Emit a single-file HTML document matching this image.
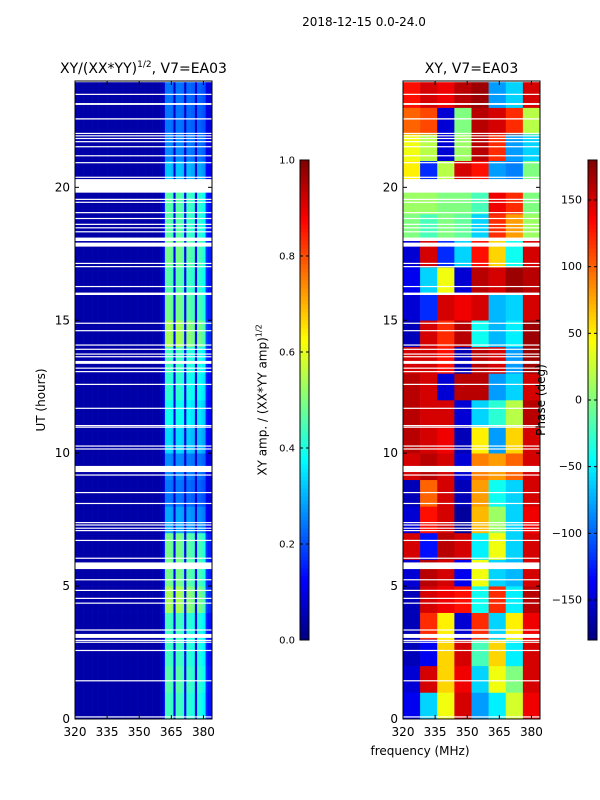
<!DOCTYPE html>
<html><head><meta charset="utf-8"><style>
body{margin:0;background:#fff}
svg{display:block;font-family:"DejaVu Sans","Liberation Sans",sans-serif}
</style></head><body>
<svg id="c" width="600" height="800" viewBox="0 0 600 800">
<text x="364" y="26" font-size="12" text-anchor="middle">2018-12-15 0.0-24.0</text>
</svg>
<script>
// ---- data ----
const freqRange = [320, 384];
const timeRange = [0, 24];
const xTicks = [320, 335, 350, 365, 380];
const yTicks = [0, 5, 10, 15, 20];
const ampTicks = [0.0, 0.2, 0.4, 0.6, 0.8, 1.0];
const phaseTicks = [-150, -100, -50, 0, 50, 100, 150];
// amplitude frequency profile, 1 MHz channels 320..383
const ampChan = [0,0,0,0,0,0,0,0,0,0,0,0,0,0,0,0,0,0,0,0,0,0,0,0,0,0,0,0,0,0,0,0,0,0,0,0,0,0,0,0,
  0.05,0.2,1.0,1.0,1.0,0.95,0.15,1.0,1.0,1.0,0.95,0.18,0.95,0.95,0.9,0.9,0.18,0.9,0.9,0.85,0.8,0.3,0.25,0.25];
// amplitude level per hour (0..23)
const ampHour = [0.4,0.42,0.4,0.4,0.5,0.45,0.45,0.25,0.2,0.22,0.3,0.35,0.38,0.4,0.5,0.45,0.42,0.45,0.42,0.42,0.28,0.22,0.2,0.2];
const ampBase = 0.04;
// phase (deg) per hour row (0..23) x 8 MHz segments
const phase = [
 [-140,-60,40,150,-80,-50,30,140],
 [-150,150,60,140,-60,40,0,150],
 [-160,-140,60,150,-20,60,-50,150],
 [-160,120,50,-150,120,-60,50,140],
 [-160,150,140,130,-40,120,-50,160],
 [-150,160,150,-140,40,-60,-70,150],
 [150,-130,160,150,-50,40,-60,150],
 [-150,130,150,-170,70,10,-60,140],
 [-160,100,150,-160,80,-40,-60,150],
 [150,160,150,-150,90,80,100,150],
 [160,150,140,-160,50,-80,60,150],
 [160,150,150,-150,-60,-30,20,160],
 [160,150,-150,160,160,-80,-60,150],
 [150,150,130,-160,160,150,-80,170],
 [-160,150,120,160,-40,-70,-50,170],
 [-150,-120,150,140,150,-70,-60,150],
 [-140,-60,40,-150,160,150,170,160],
 [-150,150,-120,-60,130,60,-40,150],
 [0,-20,0,-10,-60,120,80,10],
 [10,10,0,0,-20,140,120,0],
 [50,-120,20,150,130,-80,-90,0],
 [40,20,-150,10,160,120,-80,-60],
 [100,110,-150,0,160,150,120,20],
 [130,150,140,160,170,-80,-60,150]
];
// flagged (missing) time intervals, hours [start, end]
const gaps = [[0.07,0.1],[1.42,1.46],[2.56,2.6],[2.87,2.91],[2.94,2.98],[3.05,3.2],[3.33,3.37],[4.34,4.38],[4.52,4.56],[4.82,4.86],[5.22,5.26],
 [5.64,5.89],[6.03,6.07],[6.7,6.74],[7.07,7.11],[7.16,7.2],[7.28,7.32],[7.37,7.41],[8.09,8.13],[8.5,8.54],[9.16,9.2],[9.29,9.52],
 [10.14,10.18],[10.25,10.29],[10.96,11.0],[11.02,11.06],[11.67,11.71],[12.57,12.61],[13.05,13.09],[13.18,13.22],[13.36,13.47],
 [13.61,13.65],[13.71,13.75],[13.89,13.93],[14.05,14.09],[14.59,14.63],[14.87,14.91],[15.95,16.04],[16.25,16.29],[17.0,17.04],
 [17.12,17.16],[17.77,17.92],[17.98,18.11],[18.31,18.35],[18.46,18.5],[18.59,18.63],[18.81,18.85],[19.03,19.07],[19.42,19.46],
 [19.53,19.57],[19.8,20.31],[20.36,20.4],[20.91,20.95],[21.17,21.21],[21.51,21.55],[21.7,21.74],[21.82,21.86],[21.92,21.96],
 [22.01,22.05],[22.55,22.6],[23.1,23.17],[23.48,23.52],[23.97,24.0]];
// ---- drawing ----
const NS='http://www.w3.org/2000/svg';
const svg=document.getElementById('c');
function el(t,a,p){const e=document.createElementNS(NS,t);for(const k in a)e.setAttribute(k,a[k]);(p||svg).appendChild(e);return e;}
function jet(v){v=Math.max(0,Math.min(1,v));
 const r=Math.max(0,Math.min(1,Math.min(4*v-1.5,-4*v+4.5)));
 const g=Math.max(0,Math.min(1,Math.min(4*v-0.5,-4*v+3.5)));
 const b=Math.max(0,Math.min(1,Math.min(4*v+0.5,-4*v+2.5)));
 return `rgb(${Math.round(r*255)},${Math.round(g*255)},${Math.round(b*255)})`;}
const panels=[{x0:75,x1:212,title:'XY/(XX*YY)',sup:true,name:'amp'},{x0:403,x1:540,title:'XY, V7=EA03',sup:false,name:'phase'}];
const Y0=719,Y1=81;
function yS(h){return Y0-(h-timeRange[0])/(timeRange[1]-timeRange[0])*(Y0-Y1);}
panels.forEach((p,pi)=>{
 const xS=f=>p.x0+(f-freqRange[0])/(freqRange[1]-freqRange[0])*(p.x1-p.x0);
 const g=el('g',{});
 
 
 if(pi===0){
  for(let t=0;t<ampHour.length;t++)for(let c=0;c<ampChan.length;c++){
   const v=ampBase+ampChan[c]*ampHour[t];
   const r=el('rect',{x:xS(320+c),y:yS(t+1),width:xS(321+c)-xS(320+c)+0.3,height:yS(t)-yS(t+1)+0.3,fill:jet(v)},g);
   
   
  }
 } else {
  for(let t=0;t<phase.length;t++)for(let s=0;s<8;s++){
   const v=phase[t][s];
   const r=el('rect',{x:xS(320+s*8),y:yS(t+1),width:xS(328+s*8)-xS(320+s*8)+0.3,height:yS(t)-yS(t+1)+0.3,fill:jet((v+180)/360)},g);
   
   
  }
 }
 gaps.forEach(gp=>{
  const r=el('rect',{x:p.x0,y:yS(gp[1]),width:p.x1-p.x0,height:Math.max(1.2,yS(gp[0])-yS(gp[1])),fill:'#fff'},g);
  
  
 });
 const fr=el('rect',{x:p.x0,y:Y1,width:p.x1-p.x0,height:Y0-Y1,fill:'none',stroke:'#000','stroke-width':1});
 
 
 xTicks.forEach(f=>{const x=xS(f);
  el('line',{x1:x,x2:x,y1:Y0,y2:Y0-4,stroke:'#000'});el('line',{x1:x,x2:x,y1:Y1,y2:Y1+4,stroke:'#000'});
  const t=el('text',{x:x,y:736,'font-size':12,'text-anchor':'middle'});t.textContent=f;
  
  });
 yTicks.forEach(h=>{const y=yS(h);
  el('line',{x1:p.x0,x2:p.x0+4,y1:y,y2:y,stroke:'#000'});el('line',{x1:p.x1,x2:p.x1-4,y1:y,y2:y,stroke:'#000'});
  const t=el('text',{x:p.x0-5,y:y+4,'font-size':12,'text-anchor':'end'});t.textContent=h;
  
  });
 const tt=el('text',{x:(p.x0+p.x1)/2,y:73,'font-size':14,'text-anchor':'middle'});
 
 
 if(p.sup){tt.innerHTML='XY/(XX*YY)<tspan font-size="9" dy="-6">1/2</tspan><tspan dy="6">, V7=EA03</tspan>';}
 else tt.textContent=p.title;
});
// colorbars
const cbs=[{x:300,lo:0,hi:1,ticks:ampTicks,fmt:v=>v.toFixed(1),name:'amp-colorbar'},{x:588,lo:-180,hi:180,ticks:phaseTicks,fmt:v=>v<0?'\u2212'+(-v):''+v,name:'phase-colorbar'}];
const CT=160,CB=640,CW=9;
cbs.forEach(cb=>{
 const g=el('g',{});
 
 
 for(let i=0;i<120;i++){el('rect',{x:cb.x,y:CB-(i+1)*(CB-CT)/120,width:CW,height:(CB-CT)/120+0.5,fill:jet((i+0.5)/120)},g);}
 el('rect',{x:cb.x,y:CT,width:CW,height:CB-CT,fill:'none',stroke:'#000'},g);
 cb.ticks.forEach(v=>{const y=CB-(v-cb.lo)/(cb.hi-cb.lo)*(CB-CT);
  el('line',{x1:cb.x,x2:cb.x+3,y1:y,y2:y,stroke:'#000'},g);el('line',{x1:cb.x+CW,x2:cb.x+CW-3,y1:y,y2:y,stroke:'#000'},g);
  const t=el('text',{x:cb.x===300?cb.x-5:cb.x-6,y:y+3.5,'font-size':cb.x===300?10:11,'text-anchor':'end'},g);
  t.textContent=cb.fmt(v);
  
  });
});
</script>
<div style="position:absolute;left:0;top:0;width:600px;height:800px;pointer-events:none;font-family:'DejaVu Sans','Liberation Sans',sans-serif">
 <div style="position:absolute;left:41px;top:400px;transform:translate(-50%,-50%) rotate(-90deg);font-size:12px;white-space:nowrap">UT (hours)</div>
 <div style="position:absolute;left:262px;top:400px;transform:translate(-50%,-50%) rotate(-90deg);font-size:12px;white-space:nowrap">XY amp. / (XX*YY amp)<sup style="font-size:8px">1/2</sup></div>
 <div style="position:absolute;left:541px;top:400px;transform:translate(-50%,-50%) rotate(-90deg);font-size:12px;white-space:nowrap">Phase (deg)</div>
 <div style="position:absolute;left:420px;top:751px;transform:translate(-50%,-50%);font-size:12px;white-space:nowrap">frequency (MHz)</div>
</div>
</body></html>
